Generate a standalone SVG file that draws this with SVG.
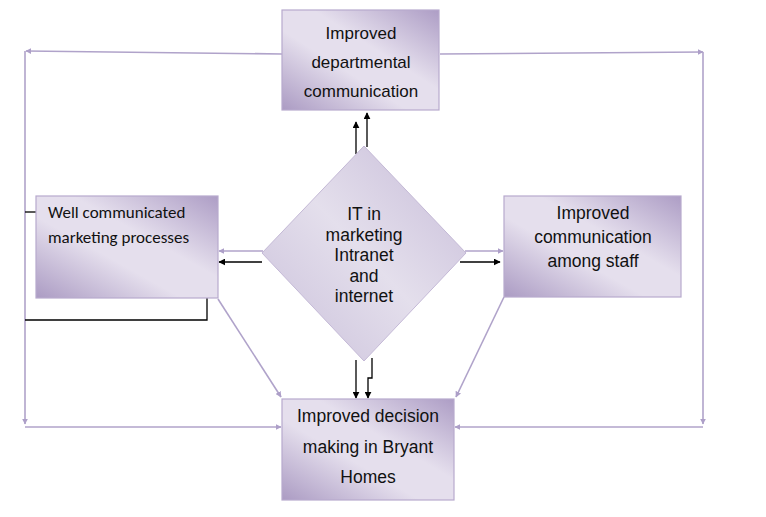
<svg xmlns="http://www.w3.org/2000/svg" width="766" height="517" viewBox="0 0 766 517">
<defs>
<linearGradient id="boxg" x1="0" y1="1" x2="1" y2="0">
<stop offset="0" stop-color="#ab9bc3"/>
<stop offset="0.4" stop-color="#e5dfed"/>
<stop offset="0.6" stop-color="#e5dfed"/>
<stop offset="1" stop-color="#ad9dc5"/>
</linearGradient>
<linearGradient id="diag" x1="0" y1="1" x2="1" y2="0">
<stop offset="0" stop-color="#c9bfda"/>
<stop offset="0.5" stop-color="#e4dfec"/>
<stop offset="1" stop-color="#c6bbd8"/>
</linearGradient>
<marker id="la" viewBox="0 0 10 10" refX="9" refY="5" markerWidth="6" markerHeight="6" markerUnits="userSpaceOnUse" orient="auto"><path d="M0,0 L10,5 L0,10 z" fill="#ad9fc8"/></marker>
<marker id="ba" viewBox="0 0 10 10" refX="9" refY="5" markerWidth="7" markerHeight="7" markerUnits="userSpaceOnUse" orient="auto"><path d="M0,0 L10,5 L0,10 z" fill="#000"/></marker>
<style>
.box{fill:url(#boxg);stroke:#b7aacd;stroke-width:1.2}
.t{font-family:"Liberation Sans",Arial,sans-serif;font-size:17.5px;fill:#111;text-anchor:middle}
.t17{font-size:17px}
.c{font-family:Carlito,Lato,"Open Sans",sans-serif;font-size:17px;fill:#111}
.lv{fill:none;stroke:#b0a3ca;stroke-width:1.6}
.lva{fill:none;stroke:#b0a3ca;stroke-width:1.6;marker-end:url(#la)}
.bk{fill:none;stroke:#000;stroke-width:1.3}
.bka{fill:none;stroke:#000;stroke-width:1.3;marker-end:url(#ba)}
</style>
</defs>
<g id="connectors">
<path class="lva" d="M282,54 L26,51"/>
<path class="lva" d="M25,51 L25,424"/>
<path class="lva" d="M25,427 L281,427"/>
<path class="lva" d="M440,54 L703,52"/>
<path class="lva" d="M703,52 L703,424"/>
<path class="lva" d="M703,427 L455,427"/>
<path class="lva" d="M218,299 L281,397"/>
<path class="lva" d="M504,297 L456,397"/>
<path class="lva" d="M263,251 L219,251"/>
<path class="lva" d="M465,251 L503,251"/>
<path class="bka" d="M262,262 L219,262"/>
<path class="bka" d="M460,262 L500,262"/>
<path class="bka" d="M356,154 L356,122"/>
<path class="bka" d="M367,147 L367,113"/>
<path class="bka" d="M356,360 L356,398"/>
<path class="bka" d="M372,358 L372,378 L368,378 L368,398"/>
<path class="bk" d="M25,212 L36,212"/>
<path class="bk" d="M207,298 L207,320 L25,320"/>
</g>
<g id="top">
<rect class="box" x="282" y="10" width="157" height="100"/>
<text class="t t17" x="361" y="39">Improved</text>
<text class="t t17" x="361" y="68">departmental</text>
<text class="t t17" x="361" y="97">communication</text>
</g>
<g id="diamond">
<polygon points="364,146 466,253 364,361 262,253" fill="url(#diag)" stroke="#c4b9d6" stroke-width="1"/>
<text class="t" x="364" y="220">IT in</text>
<text class="t" x="364" y="241">marketing</text>
<text class="t" x="364" y="261">Intranet</text>
<text class="t" x="364" y="282">and</text>
<text class="t" x="364" y="302">internet</text>
</g>
<g id="left">
<rect class="box" x="36" y="196" width="182" height="102"/>
<text class="c" x="48" y="218">Well communicated</text>
<text class="c" x="48" y="243">marketing processes</text>
</g>
<g id="right">
<rect class="box" x="504" y="196" width="177" height="101"/>
<text class="t" x="593" y="219">Improved</text>
<text class="t" x="593" y="243">communication</text>
<text class="t" x="593" y="267">among staff</text>
</g>
<g id="bottom">
<rect class="box" x="282" y="399" width="172" height="101"/>
<text class="t" x="368" y="422">Improved decision</text>
<text class="t" x="368" y="453">making in Bryant</text>
<text class="t" x="368" y="483">Homes</text>
</g>
</svg>
